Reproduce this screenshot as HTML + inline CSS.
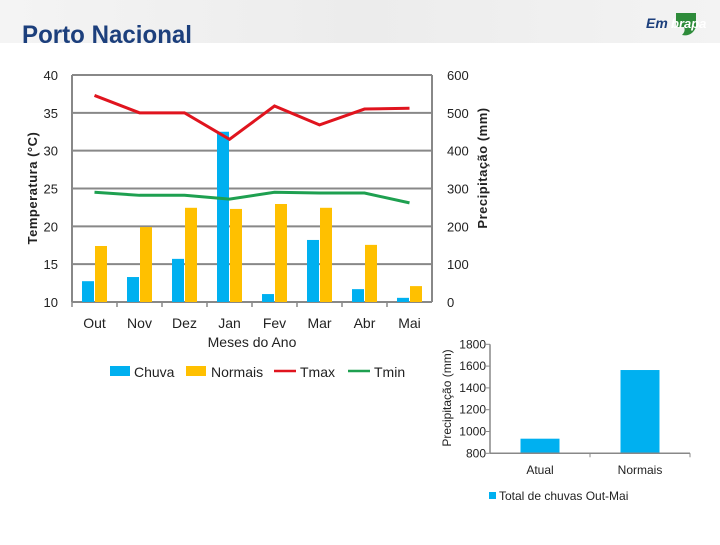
<!DOCTYPE html>
<html><head><meta charset="utf-8"><style>
body{margin:0;width:720px;height:540px;overflow:hidden;background:#fff;font-family:"Liberation Sans",sans-serif}
svg text{font-family:"Liberation Sans",sans-serif;fill:#222}
</style></head><body>
<svg width="720" height="540">
<defs><linearGradient id="hg" x1="0" x2="1"><stop offset="0" stop-color="#f4f4f4"/><stop offset="0.5" stop-color="#ececec"/><stop offset="1" stop-color="#f3f3f3"/></linearGradient></defs>
<rect x="0" y="0" width="720" height="43" fill="url(#hg)"/>
<text x="22" y="43" font-size="25" textLength="170" lengthAdjust="spacingAndGlyphs" style="fill:#1c3f7c" font-weight="bold">Porto Nacional</text>
<g>
<path d="M676 13 h20 v14 q-4 10 -14 8 q4 -4 2 -8 h-8z" fill="#2e8b3a"/>
<text x="646" y="28" font-size="14" font-style="italic" font-weight="bold" style="fill:#1c3f7c">Em</text>
<text x="671" y="28" font-size="13" font-style="italic" font-weight="bold" style="fill:#fff">brapa</text>
</g>
<g id="main"></g>
<g id="small"></g>
</svg>
<script>
const months=["Out","Nov","Dez","Jan","Fev","Mar","Abr","Mai"];
const chuva=[55,66,114,450,21,164,34,11];
const normais=[148,198,249,246,259,249,151,42];
const tmax=[37.3,35.0,35.0,31.5,35.9,33.4,35.5,35.6];
const tmin=[24.5,24.1,24.1,23.6,24.5,24.4,24.4,23.1];
const tempTicks=[10,15,20,25,30,35,40];
const precTicks=[0,100,200,300,400,500,600];
const totCats=["Atual","Normais"];
const totVals=[934,1564];
const totTicks=[800,1000,1200,1400,1600,1800];
const NS="http://www.w3.org/2000/svg";
function mk(p,t,a,txt){const e=document.createElementNS(NS,t);for(const k in a)e.setAttribute(k,a[k]);if(txt!==undefined)e.textContent=txt;p.appendChild(e);return e;}
const g=document.getElementById('main');
const X0=72,X1=432,Y0=302,Y1=75,cw=(X1-X0)/months.length;
const yP=v=>Y0-(v/600)*(Y0-Y1);
const yT=v=>Y0-((v-10)/30)*(Y0-Y1);
const xc=i=>X0+cw*(i+0.5);
precTicks.forEach((t,i)=>{const y=yP(t);
let l=mk(g,'line',{x1:X0,x2:X1,y1:y,y2:y,stroke:'#888','stroke-width':2});

let tx=mk(g,'text',{x:447,y:y+5,'font-size':13},t);
});
tempTicks.forEach(t=>{let tx=mk(g,'text',{x:58,y:yT(t)+5,'font-size':13,'text-anchor':'end'},t);
});
mk(g,'line',{x1:X0,x2:X0,y1:Y1,y2:Y0,stroke:'#888','stroke-width':2});
mk(g,'line',{x1:X1,x2:X1,y1:Y1,y2:Y0,stroke:'#888','stroke-width':2});
months.forEach((m,i)=>{
let tk=mk(g,'line',{x1:X0+cw*i,x2:X0+cw*i,y1:Y0,y2:Y0+5,stroke:'#888','stroke-width':1.5});
let b=mk(g,'rect',{x:xc(i)-12.5,y:yP(chuva[i]),width:12,height:Y0-yP(chuva[i]),fill:'#00b0f0'});

let n=mk(g,'rect',{x:xc(i)+0.5,y:yP(normais[i]),width:12,height:Y0-yP(normais[i]),fill:'#ffc000'});

let t=mk(g,'text',{x:xc(i),y:328,'font-size':14,'text-anchor':'middle'},m);
});
let pmx=mk(g,'polyline',{points:tmax.map((v,i)=>xc(i)+','+yT(v)).join(' '),fill:'none',stroke:'#e0141e','stroke-width':3});

let pmn=mk(g,'polyline',{points:tmin.map((v,i)=>xc(i)+','+yT(v)).join(' '),fill:'none',stroke:'#1ea050','stroke-width':3});

let xl=mk(g,'text',{x:252,y:347,'font-size':14,'text-anchor':'middle'},'Meses do Ano');

let yl=mk(g,'text',{x:0,y:0,'font-size':13,'text-anchor':'middle','font-weight':'bold',transform:'translate(37,188) rotate(-90)','letter-spacing':'0.5'},'Temperatura (°C)');

let yr=mk(g,'text',{x:0,y:0,'font-size':13,'text-anchor':'middle','font-weight':'bold',transform:'translate(487,168) rotate(-90)','letter-spacing':'0.5'},'Precipitação (mm)');

const lg=mk(g,'g',{});

let e1=mk(lg,'rect',{x:110,y:366,width:20,height:10,fill:'#00b0f0'});
mk(lg,'text',{x:134,y:377,'font-size':14},'Chuva');
let e2=mk(lg,'rect',{x:186,y:366,width:20,height:10,fill:'#ffc000'});
mk(lg,'text',{x:211,y:377,'font-size':14},'Normais');
let e3=mk(lg,'line',{x1:274,x2:296,y1:371,y2:371,stroke:'#e0141e','stroke-width':2.5});
mk(lg,'text',{x:300,y:377,'font-size':14},'Tmax');
let e4=mk(lg,'line',{x1:348,x2:370,y1:371,y2:371,stroke:'#1ea050','stroke-width':2.5});
mk(lg,'text',{x:374,y:377,'font-size':14},'Tmin');
const s=document.getElementById('small');
const SX0=490,SX1=690,SY0=453.3,SY1=344.3;
const yS=v=>SY0-((v-800)/1000)*(SY0-SY1);
const scw=(SX1-SX0)/totCats.length;
totTicks.forEach(t=>{let y=yS(t);
mk(s,'line',{x1:SX0-4,x2:SX0,y1:y,y2:y,stroke:'#888','stroke-width':1});
let tx=mk(s,'text',{x:486,y:y+4,'font-size':12,'text-anchor':'end'},t);
});
totCats.forEach((c,i)=>{const cx=SX0+scw*(i+0.5);
let b=mk(s,'rect',{x:cx-19.5,y:yS(totVals[i]),width:39,height:SY0-yS(totVals[i]),fill:'#00b0f0'});

mk(s,'line',{x1:SX0+scw*(i+1),x2:SX0+scw*(i+1),y1:SY0,y2:SY0+4,stroke:'#888','stroke-width':1});
let t=mk(s,'text',{x:cx,y:474,'font-size':12,'text-anchor':'middle'},c);
});
mk(s,'line',{x1:SX0,x2:SX0,y1:SY1,y2:SY0,stroke:'#888','stroke-width':1.5});
mk(s,'line',{x1:SX0,x2:SX1,y1:SY0,y2:SY0,stroke:'#888','stroke-width':1.5});
let sy=mk(s,'text',{x:0,y:0,'font-size':12,'text-anchor':'middle',transform:'translate(451,398) rotate(-90)'},'Precipitação (mm)');

let sl=mk(s,'rect',{x:489,y:492,width:7,height:7,fill:'#00b0f0'});

let st=mk(s,'text',{x:499,y:500,'font-size':12},'Total de chuvas Out-Mai');

</script>
</body></html>
